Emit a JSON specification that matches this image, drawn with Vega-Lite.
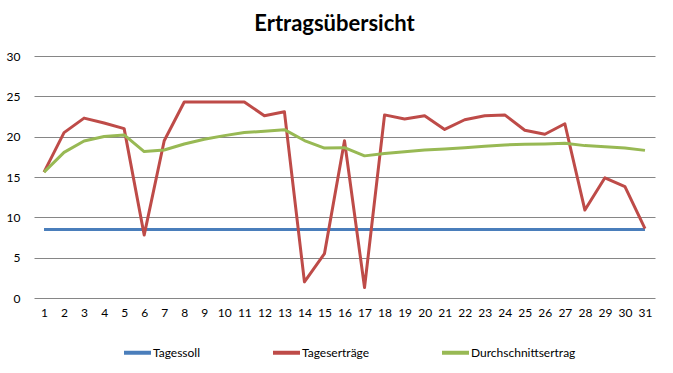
{
  "$schema": "https://vega.github.io/schema/vega-lite/v6.json",
  "width": 621,
  "height": 242,
  "autosize": "none",
  "padding": {"left": 34, "top": 56, "right": 18, "bottom": 75},
  "background": "white",
  "title": {
    "text": "Ertragsübersicht",
    "font": "Lato",
    "fontSize": 22,
    "fontWeight": "bold",
    "color": "#000000",
    "anchor": "middle",
    "offset": 14,
    "dx": -10
  },
  "data": {
    "values": [
      {"day": 1, "series": "Tagessoll", "value": 8.5},
      {"day": 2, "series": "Tagessoll", "value": 8.5},
      {"day": 3, "series": "Tagessoll", "value": 8.5},
      {"day": 4, "series": "Tagessoll", "value": 8.5},
      {"day": 5, "series": "Tagessoll", "value": 8.5},
      {"day": 6, "series": "Tagessoll", "value": 8.5},
      {"day": 7, "series": "Tagessoll", "value": 8.5},
      {"day": 8, "series": "Tagessoll", "value": 8.5},
      {"day": 9, "series": "Tagessoll", "value": 8.5},
      {"day": 10, "series": "Tagessoll", "value": 8.5},
      {"day": 11, "series": "Tagessoll", "value": 8.5},
      {"day": 12, "series": "Tagessoll", "value": 8.5},
      {"day": 13, "series": "Tagessoll", "value": 8.5},
      {"day": 14, "series": "Tagessoll", "value": 8.5},
      {"day": 15, "series": "Tagessoll", "value": 8.5},
      {"day": 16, "series": "Tagessoll", "value": 8.5},
      {"day": 17, "series": "Tagessoll", "value": 8.5},
      {"day": 18, "series": "Tagessoll", "value": 8.5},
      {"day": 19, "series": "Tagessoll", "value": 8.5},
      {"day": 20, "series": "Tagessoll", "value": 8.5},
      {"day": 21, "series": "Tagessoll", "value": 8.5},
      {"day": 22, "series": "Tagessoll", "value": 8.5},
      {"day": 23, "series": "Tagessoll", "value": 8.5},
      {"day": 24, "series": "Tagessoll", "value": 8.5},
      {"day": 25, "series": "Tagessoll", "value": 8.5},
      {"day": 26, "series": "Tagessoll", "value": 8.5},
      {"day": 27, "series": "Tagessoll", "value": 8.5},
      {"day": 28, "series": "Tagessoll", "value": 8.5},
      {"day": 29, "series": "Tagessoll", "value": 8.5},
      {"day": 30, "series": "Tagessoll", "value": 8.5},
      {"day": 31, "series": "Tagessoll", "value": 8.5},
      {"day": 1, "series": "Tageserträge", "value": 15.6},
      {"day": 2, "series": "Tageserträge", "value": 20.5},
      {"day": 3, "series": "Tageserträge", "value": 22.3},
      {"day": 4, "series": "Tageserträge", "value": 21.7},
      {"day": 5, "series": "Tageserträge", "value": 21.0},
      {"day": 6, "series": "Tageserträge", "value": 7.8},
      {"day": 7, "series": "Tageserträge", "value": 19.5},
      {"day": 8, "series": "Tageserträge", "value": 24.3},
      {"day": 9, "series": "Tageserträge", "value": 24.3},
      {"day": 10, "series": "Tageserträge", "value": 24.3},
      {"day": 11, "series": "Tageserträge", "value": 24.3},
      {"day": 12, "series": "Tageserträge", "value": 22.6},
      {"day": 13, "series": "Tageserträge", "value": 23.1},
      {"day": 14, "series": "Tageserträge", "value": 2.0},
      {"day": 15, "series": "Tageserträge", "value": 5.5},
      {"day": 16, "series": "Tageserträge", "value": 19.5},
      {"day": 17, "series": "Tageserträge", "value": 1.3},
      {"day": 18, "series": "Tageserträge", "value": 22.7},
      {"day": 19, "series": "Tageserträge", "value": 22.2},
      {"day": 20, "series": "Tageserträge", "value": 22.6},
      {"day": 21, "series": "Tageserträge", "value": 20.9},
      {"day": 22, "series": "Tageserträge", "value": 22.1},
      {"day": 23, "series": "Tageserträge", "value": 22.6},
      {"day": 24, "series": "Tageserträge", "value": 22.7},
      {"day": 25, "series": "Tageserträge", "value": 20.8},
      {"day": 26, "series": "Tageserträge", "value": 20.3},
      {"day": 27, "series": "Tageserträge", "value": 21.6},
      {"day": 28, "series": "Tageserträge", "value": 10.9},
      {"day": 29, "series": "Tageserträge", "value": 14.9},
      {"day": 30, "series": "Tageserträge", "value": 13.8},
      {"day": 31, "series": "Tageserträge", "value": 8.6},
      {"day": 1, "series": "Durchschnittsertrag", "value": 15.6},
      {"day": 2, "series": "Durchschnittsertrag", "value": 18.05},
      {"day": 3, "series": "Durchschnittsertrag", "value": 19.47},
      {"day": 4, "series": "Durchschnittsertrag", "value": 20.03},
      {"day": 5, "series": "Durchschnittsertrag", "value": 20.22},
      {"day": 6, "series": "Durchschnittsertrag", "value": 18.15},
      {"day": 7, "series": "Durchschnittsertrag", "value": 18.34},
      {"day": 8, "series": "Durchschnittsertrag", "value": 19.09},
      {"day": 9, "series": "Durchschnittsertrag", "value": 19.67},
      {"day": 10, "series": "Durchschnittsertrag", "value": 20.13},
      {"day": 11, "series": "Durchschnittsertrag", "value": 20.51},
      {"day": 12, "series": "Durchschnittsertrag", "value": 20.68},
      {"day": 13, "series": "Durchschnittsertrag", "value": 20.87},
      {"day": 14, "series": "Durchschnittsertrag", "value": 19.52},
      {"day": 15, "series": "Durchschnittsertrag", "value": 18.59},
      {"day": 16, "series": "Durchschnittsertrag", "value": 18.64},
      {"day": 17, "series": "Durchschnittsertrag", "value": 17.62},
      {"day": 18, "series": "Durchschnittsertrag", "value": 17.91},
      {"day": 19, "series": "Durchschnittsertrag", "value": 18.13},
      {"day": 20, "series": "Durchschnittsertrag", "value": 18.36},
      {"day": 21, "series": "Durchschnittsertrag", "value": 18.48},
      {"day": 22, "series": "Durchschnittsertrag", "value": 18.64},
      {"day": 23, "series": "Durchschnittsertrag", "value": 18.81},
      {"day": 24, "series": "Durchschnittsertrag", "value": 18.98},
      {"day": 25, "series": "Durchschnittsertrag", "value": 19.05},
      {"day": 26, "series": "Durchschnittsertrag", "value": 19.10},
      {"day": 27, "series": "Durchschnittsertrag", "value": 19.19},
      {"day": 28, "series": "Durchschnittsertrag", "value": 18.89},
      {"day": 29, "series": "Durchschnittsertrag", "value": 18.76},
      {"day": 30, "series": "Durchschnittsertrag", "value": 18.59},
      {"day": 31, "series": "Durchschnittsertrag", "value": 18.30}
    ]
  },
  "mark": {"type": "line", "strokeWidth": 3, "strokeJoin": "round"},
  "encoding": {
    "x": {
      "field": "day",
      "type": "ordinal",
      "scale": {"type": "point", "padding": 0.5},
      "axis": {
        "title": null,
        "labelAngle": 0,
        "domain": false,
        "ticks": false,
        "grid": false,
        "labelPadding": 9,
        "labelFont": "Lato",
        "labelFontSize": 12,
        "labelColor": "#000000"
      }
    },
    "y": {
      "field": "value",
      "type": "quantitative",
      "scale": {"domain": [0, 30], "nice": false, "zero": true},
      "axis": {
        "title": null,
        "values": [0, 5, 10, 15, 20, 25, 30],
        "domain": false,
        "ticks": false,
        "grid": true,
        "gridColor": "#868686",
        "gridWidth": 1,
        "gridOpacity": 1,
        "labelPadding": 14,
        "labelFont": "Lato",
        "labelFontSize": 12,
        "labelColor": "#000000"
      }
    },
    "color": {
      "field": "series",
      "type": "nominal",
      "scale": {
        "domain": ["Tagessoll", "Tageserträge", "Durchschnittsertrag"],
        "range": ["#4A7EBB", "#BE4B48", "#98B954"]
      },
      "legend": {
        "title": null,
        "orient": "none",
        "legendX": 88,
        "legendY": 281,
        "direction": "horizontal",
        "columns": 3,
        "columnPadding": 64,
        "symbolType": "stroke",
        "symbolSize": 729,
        "symbolStrokeWidth": 4,
        "symbolOffset": 0,
        "labelOffset": 0,
        "labelFont": "Lato",
        "labelFontSize": 12,
        "labelColor": "#000000"
      }
    },
    "order": {"field": "day", "type": "quantitative"}
  },
  "config": {
    "view": {"stroke": null}
  }
}
